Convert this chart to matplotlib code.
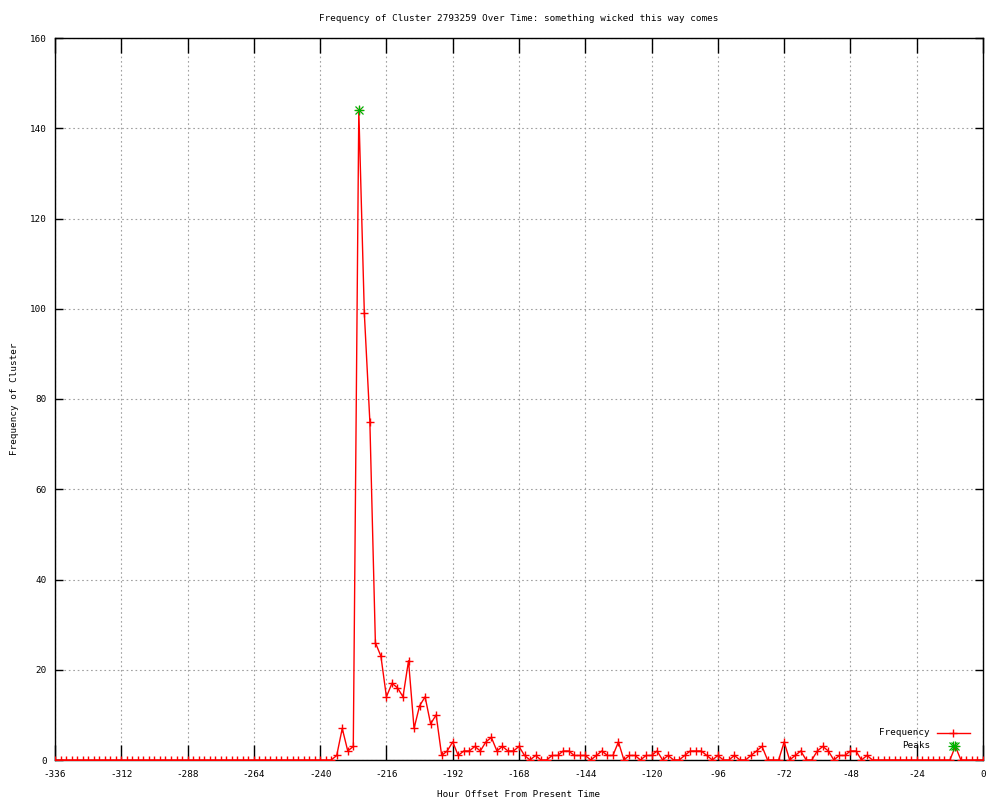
import matplotlib
matplotlib.use("Agg")
import matplotlib.pyplot as plt
from matplotlib.lines import Line2D
import numpy as np

# ---- data -------------------------------------------------------------
hours = list(range(-336, 1, 2))
early_zeros = [0] * 49  # -336 .. -240
active = [0, 0, 1, 7, 2, 3, 144, 99, 75, 26,          # -238 .. -220
          23, 14, 17, 16, 14, 22, 7, 12, 14, 8,       # -218 .. -200
          10, 1, 2, 4, 1, 2, 2, 3, 2, 4,              # -198 .. -180
          5, 2, 3, 2, 2, 3, 1, 0, 1, 0,               # -178 .. -160
          0, 1, 1, 2, 2, 1, 1, 1, 0, 1,               # -158 .. -140
          2, 1, 1, 4, 0, 1, 1, 0, 1, 1,               # -138 .. -120
          2, 0, 1, 0, 0, 1, 2, 2, 2, 1,               # -118 .. -100
          0, 1, 0, 0, 1, 0, 0, 1, 2, 3,               # -98 .. -80
          0, 0, 0, 4, 0, 1, 2, 0, 0, 2,               # -78 .. -60
          3, 2, 0, 1, 1, 2, 2, 0, 1, 0,               # -58 .. -40
          0, 0, 0, 0, 0, 0, 0, 0, 0, 0,               # -38 .. -20
          0, 0, 0, 0, 3, 0, 0, 0, 0, 0]               # -18 .. 0
frequency = early_zeros + active

peak_hours = [-226, -10]
peak_values = [144, 3]

x_ticks = list(range(-336, 1, 24))
y_ticks = list(range(0, 161, 20))

title = "Frequency of Cluster 2793259 Over Time: something wicked this way comes"
x_label = "Hour Offset From Present Time"
y_label = "Frequency of Cluster"

# ---- figure ------------------------------------------------------------
FONT = "DejaVu Sans Mono"
FS = 6.7
plt.rcParams["font.family"] = FONT
plt.rcParams["axes.unicode_minus"] = False

RED = "#ff0000"
GREEN = "#00b000"

fig = plt.figure(figsize=(10, 8), dpi=100)
ax = fig.add_axes([0.055, 0.05, 0.928, 0.9025])

ax.plot(hours, frequency, color=RED, linewidth=1.0, marker="+",
        markersize=6, markeredgewidth=1.0, zorder=3)
ax.plot(peak_hours, peak_values, linestyle="none", color=GREEN,
        marker="x", markersize=5.5, markeredgewidth=0.9, zorder=4)
ax.plot(peak_hours, peak_values, linestyle="none", color=GREEN,
        marker="+", markersize=6.5, markeredgewidth=0.9, zorder=4)

ax.set_xlim(-336, 0)
ax.set_ylim(0, 160)
ax.set_xticks(x_ticks)
ax.set_yticks(y_ticks)
ax.tick_params(axis="both", direction="in", top=True, right=True,
               labelsize=FS, width=1.0, color="black")
ax.tick_params(axis="x", length=11, pad=7)
ax.tick_params(axis="y", length=6, pad=6)
ax.grid(True, color="#a0a0a0", linestyle=(0, (1.5, 2.5)), linewidth=0.8)
ax.set_axisbelow(True)
for s in ax.spines.values():
    s.set_linewidth(1.0)
    s.set_color("black")

ax.set_title(title, fontsize=FS, pad=12)
ax.set_xlabel(x_label, fontsize=FS, labelpad=8)
ax.set_ylabel(y_label, fontsize=FS, labelpad=7.5)

# gnuplot-style key (right-justified text, sample to the right)
key_x_text = 0.943
key_rows = [0.0374, 0.0194]
ax.text(key_x_text, key_rows[0], "Frequency", transform=ax.transAxes,
        ha="right", va="center", fontsize=FS)
ax.text(key_x_text, key_rows[1], "Peaks", transform=ax.transAxes,
        ha="right", va="center", fontsize=FS)
ax.add_line(Line2D([0.950, 0.986], [key_rows[0]] * 2, transform=ax.transAxes,
                   color=RED, linewidth=1.0, zorder=5))
ax.add_line(Line2D([0.968], [key_rows[0]], transform=ax.transAxes,
                   color=RED, marker="+", markersize=6,
                   markeredgewidth=1.0, linestyle="none", zorder=5))
for mk, ms in (("x", 5.5), ("+", 6.5)):
    ax.add_line(Line2D([0.968], [key_rows[1]], transform=ax.transAxes,
                       color=GREEN, marker=mk, markersize=ms,
                       markeredgewidth=0.9, linestyle="none", zorder=5))

fig.savefig("out.png", dpi=100)
